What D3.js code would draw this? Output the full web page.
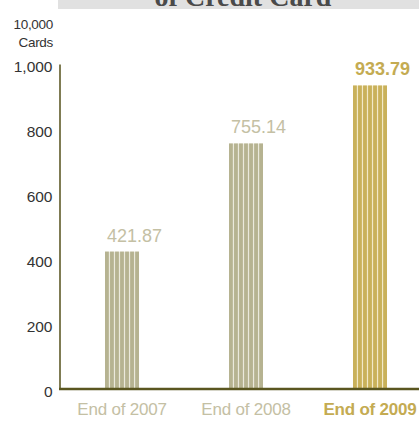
<!DOCTYPE html>
<html><head><meta charset="utf-8">
<script src="https://cdn.jsdelivr.net/npm/d3@7"></script>
<style>
html,body{margin:0;padding:0;background:#fff;}
svg{display:block;}
text{font-family:"Liberation Sans",Arial,Helvetica,sans-serif;}
</style></head><body>
<script>
const categories = ["End of 2007", "End of 2008", "End of 2009"];
const values = [421.87, 755.14, 933.79];
const valueLabels = ["421.87", "755.14", "933.79"];
const yTicks = [0, 200, 400, 600, 800, 1000];
const yTickLabels = ["0", "200", "400", "600", "800", "1,000"];
const unitLabel = ["10,000", "Cards"];
const titleText = "of Credit Card";

const W = 419, H = 421;
const svg = d3.select("body").append("svg").attr("width", W).attr("height", H);

// title band (cut off at top, as in the reference)
svg.append("rect").attr("x", 58).attr("y", 0).attr("width", W - 58).attr("height", 9).attr("fill", "#e1e1e1");
svg.append("text").attr("x", 243).attr("y", 5.5).attr("text-anchor", "middle")
  .attr("font-weight", "bold")
  .attr("font-size", 28).attr("fill", "#4a4a4a").style("font-family", "'Liberation Serif','DejaVu Serif',serif")
  .text(titleText);

const y = d3.scaleLinear().domain([0, 1000]).range([388.5, 64]);
const x = d3.scaleBand().domain(categories).range([60, 432]).paddingInner(0.726).paddingOuter(0.363);

// unit label
unitLabel.forEach((t, i) => {
  svg.append("text").attr("x", 53).attr("y", 29 + i * 18).attr("text-anchor", "end")
    .attr("font-size", 13.5).attr("fill", "#333").attr("letter-spacing", -0.3).text(t);
});

// y axis
const yAxis = d3.axisLeft(y).tickValues(yTicks).tickFormat((d, i) => yTickLabels[i]).tickSize(0).tickPadding(7);
const gy = svg.append("g").attr("transform", "translate(59.5,0)").call(yAxis);
gy.select(".domain").attr("stroke", "#5f5b28").attr("stroke-width", 1.6);
gy.selectAll(".tick text").attr("font-size", 15.5).attr("fill", "#333")
  .attr("dy", "0.5em").style("font-family", "'Liberation Sans',Arial,sans-serif");

// bars with stripes
const colors = ["#b6b391", "#b6b391", "#c9b15a"];
const gapColors = ["#ebe9dc", "#ebe9dc", "#f2e9c8"];
const nStripes = 7;
categories.forEach((c, i) => {
  const x0 = x(c), bw = x.bandwidth();
  const y0 = y(values[i]), h = y(0) - y0;
  const g = svg.append("g");
  g.append("rect").attr("x", x0).attr("y", y0).attr("width", bw).attr("height", h).attr("fill", gapColors[i]);
  const gap = 1.2;
  const sw = (bw - gap * (nStripes - 1)) / nStripes;
  d3.range(nStripes).forEach(k => {
    g.append("rect").attr("x", x0 + k * (sw + gap)).attr("y", y0).attr("width", sw).attr("height", h).attr("fill", colors[i]);
  });
  const last = i === categories.length - 1;
  svg.append("text").attr("x", x0 + 2).attr("y", y0 - 10)
    .attr("font-size", 18).attr("font-weight", last ? "bold" : "normal")
    .attr("fill", last ? "#c4ab52" : "#c4c0a4").text(valueLabels[i]);
});

// x axis
const xAxis = d3.axisBottom(x).tickSize(0).tickPadding(14);
const gx = svg.append("g").attr("transform", "translate(0,388.5)").call(xAxis);
gx.select(".domain").remove();
svg.append("line").attr("x1", 59).attr("x2", W).attr("y1", 389).attr("y2", 389)
  .attr("stroke", "#5a5620").attr("stroke-width", 2.4);
gx.selectAll(".tick text").attr("font-size", 17)
  .style("font-family", "'Liberation Sans',Arial,sans-serif")
  .attr("fill", (d, i) => i === 2 ? "#c4ab52" : "#c4c0a4")
  .attr("font-weight", (d, i) => i === 2 ? "bold" : "normal")
  .attr("letter-spacing", -0.2);
</script>
</body></html>
